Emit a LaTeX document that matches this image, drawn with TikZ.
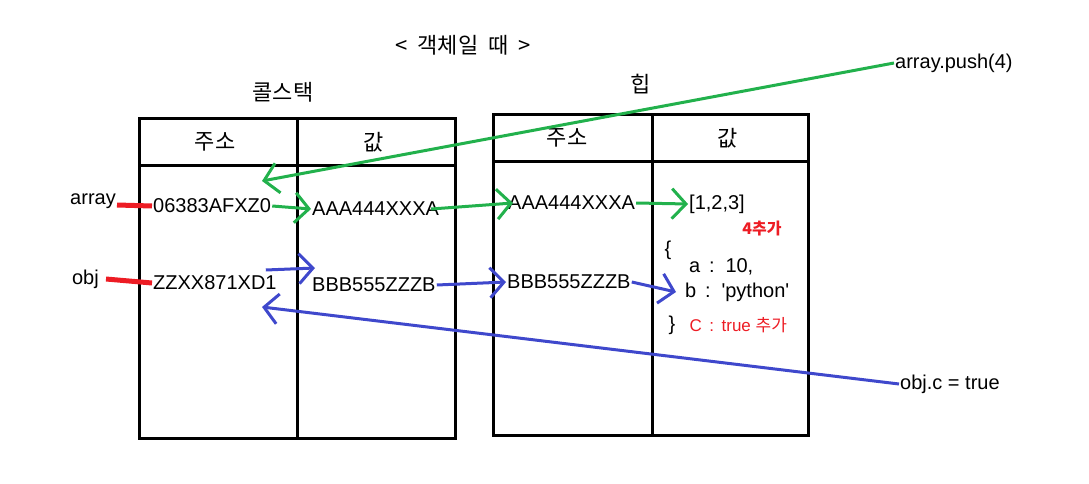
\documentclass[tikz,border=0pt]{standalone}
\usepackage{fontspec}
\setmainfont{Liberation Sans}
\newfontfamily\kr{Noto Sans CJK KR}
\usetikzlibrary{arrows.meta}
\definecolor{pgreen}{RGB}{34,177,76}
\definecolor{pblue}{RGB}{63,72,204}
\definecolor{pred}{RGB}{237,28,36}

\begin{document}
\begin{tikzpicture}[x=1pt,y=-1pt,
  txt/.style={font=\fontsize{20}{20}\selectfont,inner sep=1pt},
  hangul/.style={font=\kr\fontsize{22}{22}\selectfont,inner sep=1pt},
  tbl/.style={line width=3pt},
  greenarr/.style={pgreen,line width=3pt,-{Straight Barb[length=14pt,width=30pt]}},
  bluearr/.style={pblue,line width=3pt,-{Straight Barb[length=14pt,width=30pt]}}]
\useasboundingbox (0,0) rectangle (1089,484);
% the two tables
\draw[tbl] (139,119) rectangle (455,438);
\draw[tbl] (139,165) -- (455,165);
\draw[tbl] (297,119) -- (297,438);
\draw[tbl] (493,115) rectangle (808,435);
\draw[tbl] (493,161) -- (808,161);
\draw[tbl] (652,115) -- (652,435);
% titles and headers
\node[hangul] (title) at (463,45) {<\ \ 객체일\ \ 때\ \ >};
\node[hangul] (stacklbl) at (283,92) {콜스택};
\node[hangul] (heaplbl) at (641,84) {힙};
\node[hangul] (saddrh) at (215,142) {주소};
\node[hangul] (svalh) at (374,142) {값};
\node[hangul] (haddrh) at (567,138) {주소};
\node[hangul] (hvalh) at (728,138) {값};
% array row
\node[txt,anchor=east] (arrlbl) at (117,201) {array};
\node[txt,anchor=west] (saddr1) at (152,206) {06383AFXZ0};
\node[txt,anchor=west] (sval1) at (311,209) {AAA444XXXA};
\node[txt,anchor=west] (haddr1) at (507,203) {AAA444XXXA};
\node[txt,anchor=west] (hval1) at (688,204) {[1,2,3]};
\node[font=\kr\bfseries\fontsize{16}{16}\selectfont,text=pred] (add4) at (762,229) {4추가};
% obj row
\node[txt,anchor=east] (objlbl) at (100,279) {obj};
\node[txt,anchor=west] (saddr2) at (152,283) {ZZXX871XD1};
\node[txt,anchor=west] (sval2) at (311,285) {BBB555ZZZB};
\node[txt,anchor=west] (haddr2) at (506,282) {BBB555ZZZB};
\node[txt] (lbrace) at (668,250) {\{};
\node[txt,anchor=west] (fielda) at (688,267) {a \,:\, 10,};
\node[txt,anchor=west] (fieldb) at (684,292) {b \,:\, \textquotesingle python\textquotesingle};
\node[txt] (rbrace) at (672,325) {\}};
\node[font=\fontsize{17}{17}\selectfont,text=pred,anchor=west] (addc) at (686,325) {C \,:\, true {\kr 추가}};
% code on the right
\node[txt,anchor=west] (pushtxt) at (894,63) {array.push(4)};
\node[txt,anchor=west] (objc) at (899,384) {obj.c = true};
% connectors
\draw[pred,line width=5pt] ([yshift=-4pt]arrlbl.east) -- (saddr1.west);
\draw[pred,line width=5pt] ([xshift=6pt]objlbl.east) -- (saddr2.west);
\coordinate (pushend) at (262,181);
\draw[greenarr] (pushtxt.west) -- (pushend);
\draw[greenarr] (saddr1.east) -- (sval1.west);
\draw[greenarr] ([xshift=-9pt]sval1.east) -- ([xshift=6pt]haddr1.west);
\draw[greenarr] (haddr1.east) -- (hval1.west);
\draw[bluearr] ([shift={(-12pt,13pt)}]saddr2.east) -- ([shift={(4pt,17pt)}]sval2.west);
\draw[bluearr] (sval2.east) -- (haddr2.west);
\draw[bluearr] (haddr2.east) -- ([xshift=-8pt]fieldb.west);
\coordinate (objend) at (262,307);
\draw[bluearr] (objc.west) -- (objend);
\end{tikzpicture}
\end{document}
